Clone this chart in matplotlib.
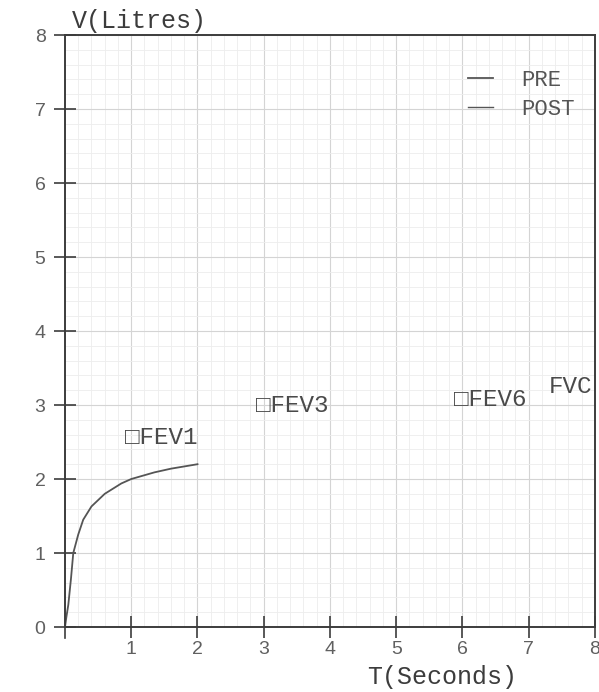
import matplotlib
matplotlib.use("Agg")
import matplotlib.pyplot as plt
from matplotlib.ticker import MultipleLocator

# spirometry curve (PRE)
t_pre = [0, 0.02, 0.05, 0.09, 0.125, 0.2, 0.275, 0.4, 0.6, 0.85, 1.0, 1.35, 1.6, 2.0]
v_pre = [0, 0.13, 0.3, 0.65, 1.0, 1.25, 1.45, 1.63, 1.8, 1.94, 2.0, 2.09, 2.14, 2.2]

# FEV annotation labels (position of the text)
fev_labels = ["\u25a1FEV1", "\u25a1FEV3", "\u25a1FEV6", "FVC"]
fev_t = [0.9, 2.88, 5.87, 7.3]
fev_v = [2.56, 3.0, 3.07, 3.25]

x_ticks = [1, 2, 3, 4, 5, 6, 7, 8]
y_ticks = [0, 1, 2, 3, 4, 5, 6, 7, 8]

MONO = ["Liberation Mono", "DejaVu Sans Mono", "DejaVu Sans"]
INK = "#3c3c3c"

fig = plt.figure(figsize=(5.99, 6.92), dpi=100)
ax = fig.add_axes([0.1085, 0.0939, 0.8848, 0.8555])

ax.plot(t_pre, v_pre, color="#555555", lw=1.3, label="PRE")
ax.plot([], [], color="#555555", lw=1.0, label="POST")

for lab, x, y in zip(fev_labels, fev_t, fev_v):
    ax.text(x, y, lab, family=MONO, fontsize=17.5, color="#4a4a4a",
            va="center", ha="left", clip_on=True)

ax.set_xlim(0, 8)
ax.set_ylim(0, 8)
ax.set_xticks(x_ticks)
ax.set_yticks(y_ticks)
ax.xaxis.set_minor_locator(MultipleLocator(0.2))
ax.yaxis.set_minor_locator(MultipleLocator(0.2))
ax.grid(which="major", color="#d4d4d4", lw=0.8)
ax.grid(which="minor", color="#ededed", lw=0.6)
ax.set_axisbelow(True)

for s in ax.spines.values():
    s.set_color(INK)
    s.set_linewidth(1.4)

ax.tick_params(which="major", direction="inout", length=16, width=1.2,
               color=INK, labelsize=14, labelcolor="#606060", pad=2)
ax.tick_params(which="minor", length=0)
for lbl in ax.get_xticklabels() + ax.get_yticklabels():
    lbl.set_family("Liberation Sans")
ax.tick_params(axis="y", pad=6)

# tick at x = 0 below the axis
ax.plot([0, 0], [0, -0.15], color=INK, lw=1.2, clip_on=False)

leg = ax.legend(loc="upper right", bbox_to_anchor=(1.0, 0.975), frameon=False,
                handlelength=1.1, handletextpad=1.3, labelspacing=0.35,
                prop={"family": MONO, "size": 16})
for txt in leg.get_texts():
    txt.set_color("#555555")

fig.text(72 / 599, 1 - 21 / 692, "V(Litres)", family=MONO, fontsize=18,
         color=INK, ha="left", va="center")
fig.text(442 / 599, 1 - 677 / 692, "T(Seconds)", family=MONO, fontsize=18,
         color=INK, ha="center", va="center")

fig.savefig("out.png", dpi=100)
